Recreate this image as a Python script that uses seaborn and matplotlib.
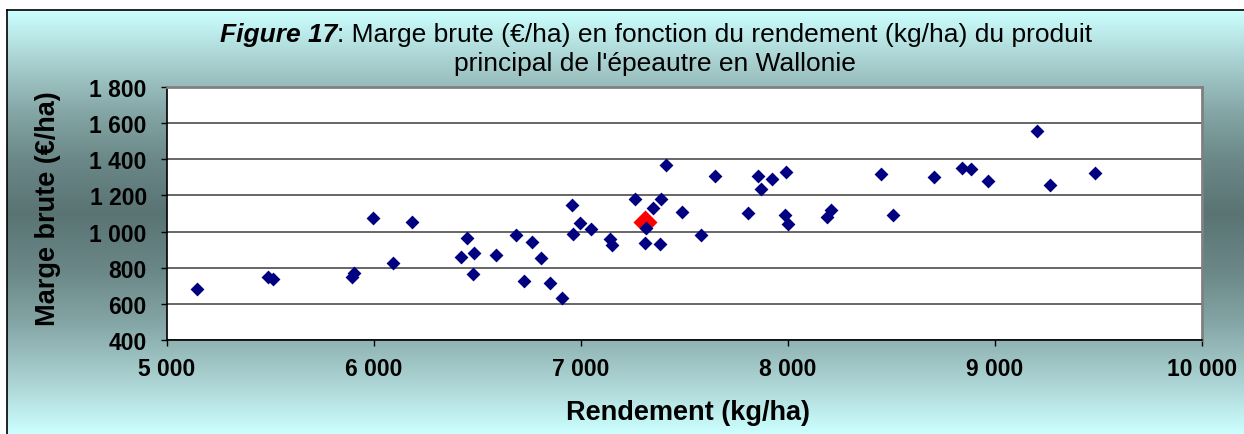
import numpy as np
import matplotlib
matplotlib.use("Agg")
import matplotlib.pyplot as plt
import seaborn as sns
from matplotlib.ticker import FuncFormatter
from matplotlib.colors import LinearSegmentedColormap

# Rendement (kg/ha) et marge brute (€/ha) par exploitation
rendement = [5143, 5490, 5514, 5893, 5905, 5997, 6093, 6183, 6448, 6422,
             6483, 6477, 6588, 6686, 6725, 6762, 6805, 6850, 6907, 6955,
             6995, 6963, 7050, 7140, 7152, 7260, 7314, 7349, 7385, 7409,
             7309, 7382, 7489, 7580, 7647, 7808, 7857, 7921, 7871, 7989,
             7986, 8002, 8190, 8210, 8450, 8509, 8705, 8839, 8882, 8968,
             9201, 9267, 9483]
marge_brute = [682, 750, 737, 750, 772, 1073, 824, 1055, 963, 857,
               881, 763, 870, 980, 724, 943, 854, 718, 635, 1146,
               1048, 989, 1015, 961, 924, 1181, 1017, 1132, 1178, 1367,
               937, 931, 1108, 982, 1306, 1102, 1306, 1289, 1237, 1332,
               1089, 1043, 1080, 1122, 1321, 1089, 1304, 1354, 1348, 1282,
               1557, 1257, 1322]

# Point moyen
moyenne_rendement = [7310]
moyenne_marge = [1052]

x_ticks = [5000, 6000, 7000, 8000, 9000, 10000]
y_ticks = [400, 600, 800, 1000, 1200, 1400, 1600, 1800]

sns.set_theme(style="white")
plt.rcParams['font.family'] = ['Liberation Sans', 'DejaVu Sans']

W, H = 1244, 435
fig = plt.figure(figsize=(W / 100, H / 100), dpi=100)
fig.patch.set_facecolor('white')

# Fond en dégradé vertical : clair en haut et en bas, sombre au centre
bg = fig.add_axes([7 / W, 0, 1 - 7 / W, 1 - 11 / H], zorder=0)
rows = H - 11
yc = 214 - 11
yy = np.arange(rows, dtype=float)
t = np.where(yy < yc, (yc - yy) / yc, (yy - yc) / (rows - 1 - yc))
t = np.clip(t, 0, 1)
grad = np.tile(t[:, None], (1, 4))
cmap_bg = LinearSegmentedColormap.from_list(
    'fond', ['#5a7474', '#6a8686', '#85a6a6', '#a9d0d0', '#ccffff'], N=256)
bg.imshow(grad, cmap=cmap_bg, vmin=0, vmax=1, aspect='auto',
          extent=[0, 1, 0, 1], interpolation='nearest')
bg.set_xlim(0, 1)
bg.set_ylim(0, 1)
bg.set_xticks([])
bg.set_yticks([])
for side in ['right', 'bottom']:
    bg.spines[side].set_visible(False)
for side in ['top', 'left']:
    bg.spines[side].set_visible(True)
    bg.spines[side].set_color('black')
    bg.spines[side].set_linewidth(1.2)

# Zone de tracé
ax = fig.add_axes([167 / W, 1 - 341 / H, (1202 - 167) / W, (341 - 88) / H], zorder=2)
ax.set_facecolor('white')

sns.scatterplot(x=rendement, y=marge_brute, marker='D', s=50, color='#000080',
                edgecolor='#000080', linewidth=0, ax=ax, zorder=3, legend=False)
sns.scatterplot(x=moyenne_rendement, y=moyenne_marge, marker='D', s=150, color='#FF0000',
                edgecolor='#FF0000', linewidth=0, ax=ax, zorder=2, legend=False)

ax.set_xlim(5000, 10000)
ax.set_ylim(400, 1800)
ax.set_xticks(x_ticks)
ax.set_yticks(y_ticks)
fmt = FuncFormatter(lambda v, p: f"{int(v):,}".replace(",", " "))
ax.xaxis.set_major_formatter(fmt)
ax.yaxis.set_major_formatter(fmt)

ax.yaxis.grid(True, color='#5a5a5a', linewidth=1.3)
ax.xaxis.grid(False)
ax.set_axisbelow(True)

for side in ['top', 'right']:
    ax.spines[side].set_visible(True)
    ax.spines[side].set_color('#808080')
    ax.spines[side].set_linewidth(2)
for side in ['left', 'bottom']:
    ax.spines[side].set_visible(True)
    ax.spines[side].set_color('black')
    ax.spines[side].set_linewidth(1.2)

ax.tick_params(axis='both', direction='out', length=4.5, width=1, color='black',
               labelsize=16.5, labelcolor='black', left=True, bottom=True)
ax.tick_params(axis='y', pad=10)
ax.tick_params(axis='x', pad=8)
for lab in ax.get_xticklabels() + ax.get_yticklabels():
    lab.set_fontweight('bold')
ax.set_xlabel('')
ax.set_ylabel('')

fig.text(48 / W, 1 - 209 / H, 'Marge brute (€/ha)', rotation=90, ha='center', va='center',
         fontsize=19.5, fontweight='bold', color='black')
fig.text(688 / W, 1 - 413 / H, 'Rendement (kg/ha)', ha='center', va='center',
         fontsize=19.5, fontweight='bold', color='black')

# Titre sur deux lignes, "Figure 17" en gras italique
y1 = 1 - 42 / H
t1 = fig.text(0, y1, 'Figure 17', fontsize=19, fontweight='bold', fontstyle='italic',
              va='baseline', color='black')
t2 = fig.text(0, y1, ': Marge brute (€/ha) en fonction du rendement (kg/ha) du produit',
              fontsize=19, va='baseline', color='black')
fig.canvas.draw()
r = fig.canvas.get_renderer()
w1 = t1.get_window_extent(r).width
w2 = t2.get_window_extent(r).width
x0 = 656 - (w1 + w2) / 2
t1.set_x(x0 / W)
t2.set_x((x0 + w1) / W)
fig.text(655 / W, 1 - 71 / H, "principal de l'épeautre en Wallonie", fontsize=19,
         ha='center', va='baseline', color='black')

fig.savefig('out.png', dpi=100)
